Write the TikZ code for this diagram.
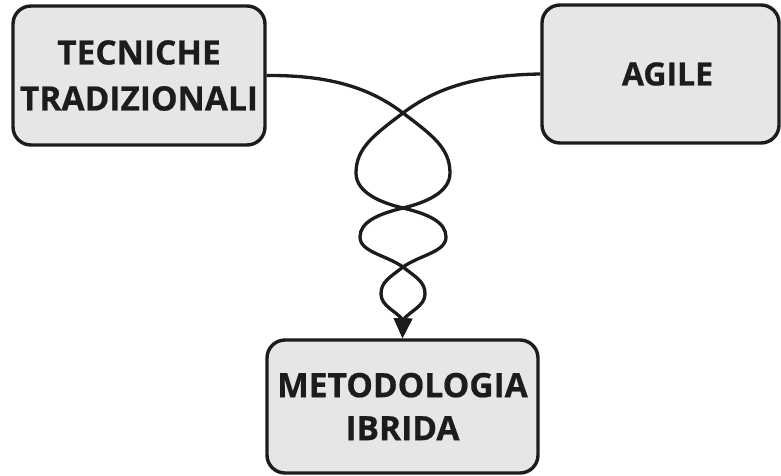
\documentclass[tikz,border=0pt]{standalone}
\usepackage{fontspec}
\setmainfont{Open Sans}[BoldFeatures={FakeBold=0.6}]
\usetikzlibrary{arrows.meta}
\definecolor{boxfill}{HTML}{E6E6E6}
\definecolor{ink}{HTML}{1C1C1C}
\begin{document}
\begin{tikzpicture}[x=1pt,y=-1pt,
  block/.style={draw=ink, fill=boxfill, line width=3.4pt, rounded corners=18pt,
    align=center, text=ink, inner sep=0pt,
    font=\fontsize{33.5}{46}\selectfont\bfseries},
  strand/.style={draw=ink, line width=3.3pt},
  tip/.style={-{Triangle[width=18pt,length=20pt]}}]
\useasboundingbox (0,0) rectangle (781,475);

\node[block, minimum width=252pt, minimum height=139pt] (trad) at (139,75.5) {TECNICHE\\TRADIZIONALI};
\node[block, minimum width=237pt, minimum height=138pt, font=\fontsize{32}{46}\selectfont\bfseries] (agile) at (660.5,74) {\hspace*{14pt}AGILE};
\node[block, minimum width=271pt, minimum height=133pt] (ibrida) at (402.5,406.5) {\raisebox{-3pt}{METODOLOGIA}\\IBRIDA};

% left strand: from the traditional techniques, twisting down to the hybrid box
\draw[strand, tip] (trad.east)
  .. controls (330,75) and (370,88) .. (403,113)
  .. controls (432,135) and (450,148) .. (450,173)
  .. controls (450,193) and (424,203) .. (403,208)
  .. controls (378,214) and (360,222) .. (360,237)
  .. controls (360,252) and (386,255) .. (403,267)
  .. controls (417,278) and (425,282) .. (425,294)
  .. controls (425,306) and (410,311) .. (403,320)
  -- (ibrida.north);

% right strand: mirror image, from the agile box
\draw[strand, tip] (agile.west)
  .. controls (476,75) and (436,88) .. (403,113)
  .. controls (374,135) and (356,148) .. (356,173)
  .. controls (356,193) and (382,203) .. (403,208)
  .. controls (428,214) and (446,222) .. (446,237)
  .. controls (446,252) and (420,255) .. (403,267)
  .. controls (389,278) and (381,282) .. (381,294)
  .. controls (381,306) and (396,311) .. (403,320)
  -- (ibrida.north);
\end{tikzpicture}
\end{document}
